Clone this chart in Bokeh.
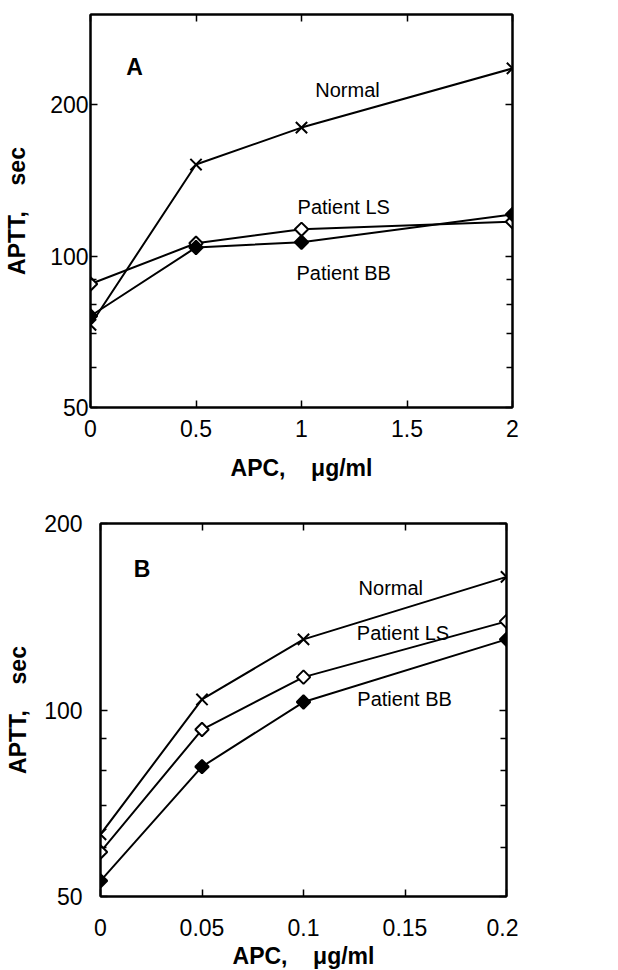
import math
from bokeh.plotting import figure
from bokeh.models import FixedTicker, LinearAxis, LogAxis, Label, Range1d
from bokeh.layouts import column
from bokeh.embed import file_html
from bokeh.resources import INLINE

# ---------------- data ----------------
series_names = ["Normal", "Patient LS", "Patient BB"]

# Panel A
a_apc = [0, 0.5, 1, 2]
a_normal = [73, 152, 180, 236]
a_ls = [88, 106, 113, 117]
a_bb = [76, 104, 106.5, 121]
a_x_ticks = [0, 0.5, 1, 1.5, 2]
a_x_labels = ["0", "0.5", "1", "1.5", "2"]

# Panel B
b_apc = [0, 0.05, 0.1, 0.2]
b_normal = [63, 104, 130, 164]
b_ls = [59, 93, 113, 139]
b_bb = [53, 81, 103, 130]
b_x_ticks = [0, 0.05, 0.1, 0.15, 0.2]
b_x_labels = ["0", "0.05", "0.1", "0.15", "0.2"]

y_ticks = [50, 100, 200]
y_labels = ["50", "100", "200"]
y_minor = [60, 70, 80, 90]

NB = "\u00a0"
x_title = "APC," + NB * 4 + "\u03bcg/ml"
y_title = "APTT," + NB * 4 + "sec"

FONT = "Liberation Sans"


def style_axis(ax):
    ax.axis_line_color = "black"
    ax.axis_line_width = 2
    ax.major_tick_in = 7
    ax.major_tick_out = 0
    ax.minor_tick_in = 6
    ax.minor_tick_out = 0
    ax.major_tick_line_width = 1.5
    ax.minor_tick_line_width = 1.5
    ax.major_tick_line_color = "black"
    ax.minor_tick_line_color = "black"


def make_panel(letter, apc, normal, ls, bb, x_ticks, x_labels, x_end, y_end,
               fw, fh, mb_left, mb_top, mb_bottom, ystand, ylstand, xstand, xlstand,
               letter_pos, label_pos):
    p = figure(frame_width=fw, frame_height=fh,
               x_range=Range1d(0, x_end), y_range=Range1d(50, y_end),
               y_axis_type="log", output_backend="svg", toolbar_location=None,
               min_border_left=mb_left, min_border_right=12,
               min_border_top=mb_top, min_border_bottom=mb_bottom,
               frame_align=False)
    p.grid.visible = False
    p.outline_line_color = "black"
    p.outline_line_width = 2
    p.background_fill_color = "white"
    p.border_fill_color = "white"

    x_over = {float(t): l for t, l in zip(x_ticks, x_labels)}
    y_over = {float(t): l for t, l in zip(y_ticks, y_labels)}

    xa = p.xaxis[0]
    xa.ticker = FixedTicker(ticks=x_ticks)
    xa.major_label_overrides = x_over
    ya = p.yaxis[0]
    ya.ticker = FixedTicker(ticks=y_ticks, minor_ticks=y_minor)
    ya.major_label_overrides = y_over

    for ax in (xa, ya):
        style_axis(ax)
        ax.major_label_text_font = FONT
        ax.major_label_text_font_size = "23px"
        ax.major_label_text_color = "black"
        ax.axis_label_text_font = FONT
        ax.axis_label_text_font_size = "23px"
        ax.axis_label_text_font_style = "bold"
        ax.axis_label_text_color = "black"
    xa.minor_tick_line_color = None
    xa.axis_label = x_title
    ya.axis_label = y_title
    ya.major_label_standoff = ystand
    ya.axis_label_standoff = ylstand
    xa.major_label_standoff = xstand
    xa.axis_label_standoff = xlstand

    top = LinearAxis(ticker=FixedTicker(ticks=x_ticks))
    right = LogAxis(ticker=FixedTicker(ticks=y_ticks, minor_ticks=y_minor))
    for ax in (top, right):
        style_axis(ax)
        ax.major_label_text_color = None
        ax.major_label_text_font_size = "1px"
        ax.major_label_standoff = 0
    top.minor_tick_line_color = None
    p.add_layout(top, "above")
    p.add_layout(right, "right")

    for ys in (normal, ls, bb):
        p.line(apc, ys, line_color="black", line_width=2)
    p.scatter(apc, normal, marker="x", size=16, line_color="black", line_width=2)
    p.scatter(apc, ls, marker="square", angle=math.pi / 4, size=9.5,
              fill_color="white", line_color="black", line_width=2)
    p.scatter(apc, bb, marker="square", angle=math.pi / 4, size=9.5,
              fill_color="black", line_color="black", line_width=2)

    p.add_layout(Label(x=letter_pos[0], y=letter_pos[1], text=letter,
                       text_font=FONT, text_font_size="23px", text_font_style="bold",
                       text_align="center", text_baseline="middle", text_color="black"))
    for name, (lx, ly) in zip(series_names, label_pos):
        p.add_layout(Label(x=lx, y=ly, text=name, text_font=FONT,
                           text_font_size="20px", text_align="center",
                           text_baseline="middle", text_color="black"))
    return p


pa = make_panel("A", a_apc, a_normal, a_ls, a_bb, a_x_ticks, a_x_labels, 2, 302,
                fw=422, fh=393, mb_left=90, mb_top=14, mb_bottom=81,
                ystand=2, ylstand=17, xstand=12, xlstand=15,
                letter_pos=(0.209, 237),
                label_pos=[(1.218, 214), (1.2, 125), (1.2, 92.5)])

pb = make_panel("B", b_apc, b_normal, b_ls, b_bb, b_x_ticks, b_x_labels, 0.2, 200,
                fw=406, fh=373, mb_left=100, mb_top=35, mb_bottom=10,
                ystand=18, ylstand=10, xstand=22, xlstand=4,
                letter_pos=(0.0205, 168.7),
                label_pos=[(0.143, 157.6), (0.149, 133.3), (0.1498, 104)])

layout = column(pa, pb, spacing=0)
open("out.html", "w").write(file_html(layout, INLINE))
